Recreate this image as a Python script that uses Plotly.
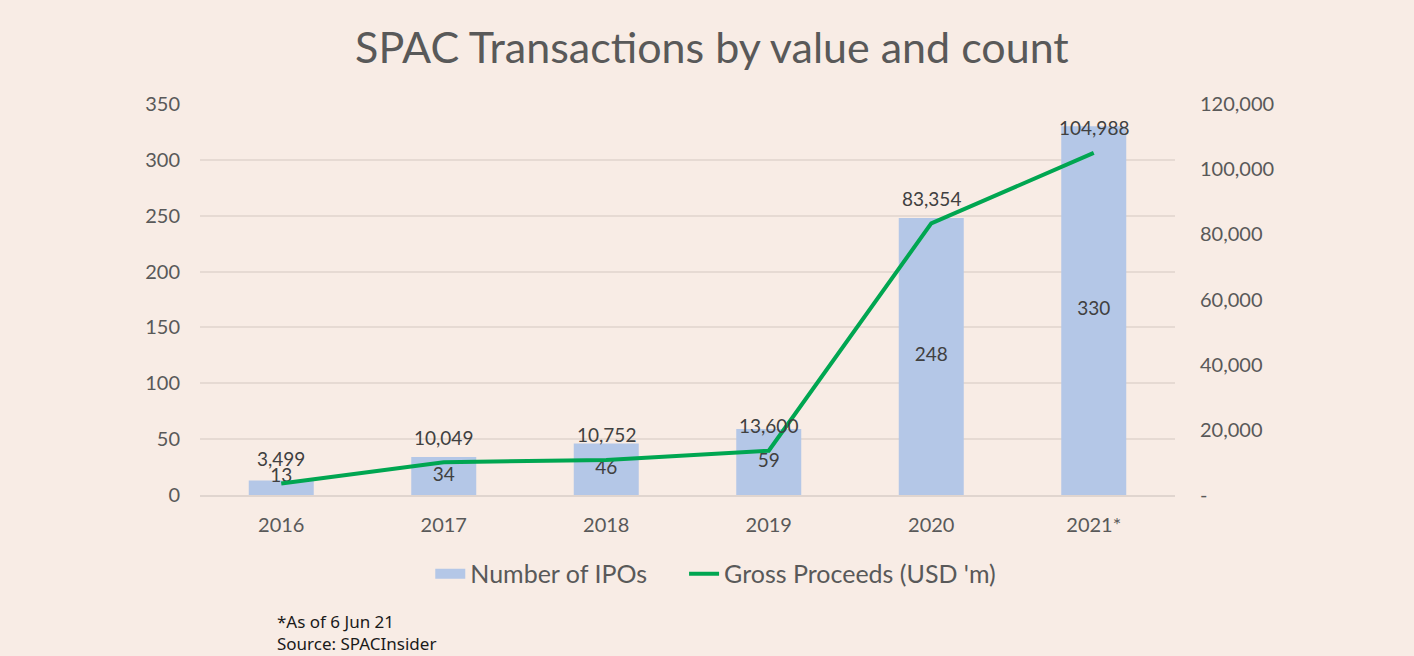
import plotly.graph_objects as go

years = ["2016", "2017", "2018", "2019", "2020", "2021*"]
ipo_counts = [13, 34, 46, 59, 248, 330]
gross_proceeds = [3499, 10049, 10752, 13600, 83354, 104988]

left_ticks = [0, 50, 100, 150, 200, 250, 300, 350]
right_ticks = [0, 20000, 40000, 60000, 80000, 100000, 120000]
right_ticktext = ["-", "20,000", "40,000", "60,000", "80,000", "100,000", "120,000"]

BG = "#F8ECE5"
TXT = "#595959"
LBL = "#404040"
FONT = "Lato"
BLUE = "#B4C7E7"
GREEN = "#00A651"

fig = go.Figure()
fig.add_trace(go.Bar(
    x=years, y=ipo_counts, name="Number of IPOs",
    marker=dict(color=BLUE, line=dict(width=0)),
    yaxis="y", hoverinfo="skip", showlegend=False,
))
# legend swatch for bars (wide rectangle like the reference)
fig.add_trace(go.Scatter(
    x=[years[0]], y=[None], mode="lines",
    name="Number of IPOs" + "\u00a0" * 5,
    line=dict(color=BLUE, width=15), yaxis="y",
))
# count labels in the middle of the bars
fig.add_trace(go.Scatter(
    x=years, y=[max(v / 2, 16) for v in ipo_counts],
    mode="text", text=[str(v) for v in ipo_counts],
    textfont=dict(family=FONT, size=19, color=LBL),
    showlegend=False, yaxis="y", hoverinfo="skip",
))
fig.add_trace(go.Scatter(
    x=years, y=gross_proceeds, name="Gross Proceeds (USD 'm)",
    mode="lines", line=dict(color=GREEN, width=4),
    yaxis="y2", hoverinfo="skip",
))
for i, v in enumerate(gross_proceeds):
    fig.add_annotation(x=i, y=v, xref="x", yref="y2", text=f"{v:,}",
                       showarrow=False, yshift=25,
                       font=dict(family=FONT, size=19, color=LBL))

fig.update_layout(
    width=1414, height=656,
    paper_bgcolor=BG, plot_bgcolor=BG,
    margin=dict(l=200, r=239, t=104, b=161),
    title=dict(text="SPAC Transactions by value and count",
               x=0.5035, xanchor="center", y=0.927, yanchor="middle",
               font=dict(family=FONT, size=43, color=TXT)),
    bargap=0.6,
    xaxis=dict(type="category", categoryorder="array", categoryarray=years,
               range=[-0.5, len(years) - 0.5],
               showgrid=False, showline=True, linecolor="#E0D5CF", linewidth=1.5,
               ticks="", tickfont=dict(family=FONT, size=20, color=TXT),
               ticklabelstandoff=11),
    yaxis=dict(range=[0, 350], tickvals=left_ticks, showgrid=True,
               gridcolor="#E6DAD3", gridwidth=1.5, zeroline=False,
               tickfont=dict(family=FONT, size=20, color=TXT),
               ticklabelstandoff=19),
    yaxis2=dict(range=[0, 120000], tickvals=right_ticks, ticktext=right_ticktext,
                overlaying="y", side="right", showgrid=False, zeroline=False,
                tickfont=dict(family=FONT, size=20, color=TXT),
                ticklabelstandoff=24),
    legend=dict(orientation="h", x=0.529, xanchor="center", y=-0.202, yanchor="middle",
                font=dict(family=FONT, size=25, color=TXT), bgcolor="rgba(0,0,0,0)",
                itemwidth=30, tracegroupgap=0),
    showlegend=True,
)

fig.add_annotation(text="*As of 6 Jun 21<br>Source: SPACInsider", xref="paper", yref="paper",
                   x=(275 - 200) / 975, y=(495 - 608) / 391, xanchor="left", yanchor="top",
                   align="left", showarrow=False,
                   font=dict(family="Noto Sans", size=17, color="#1A1A1A"))

fig.write_html("out.html")
